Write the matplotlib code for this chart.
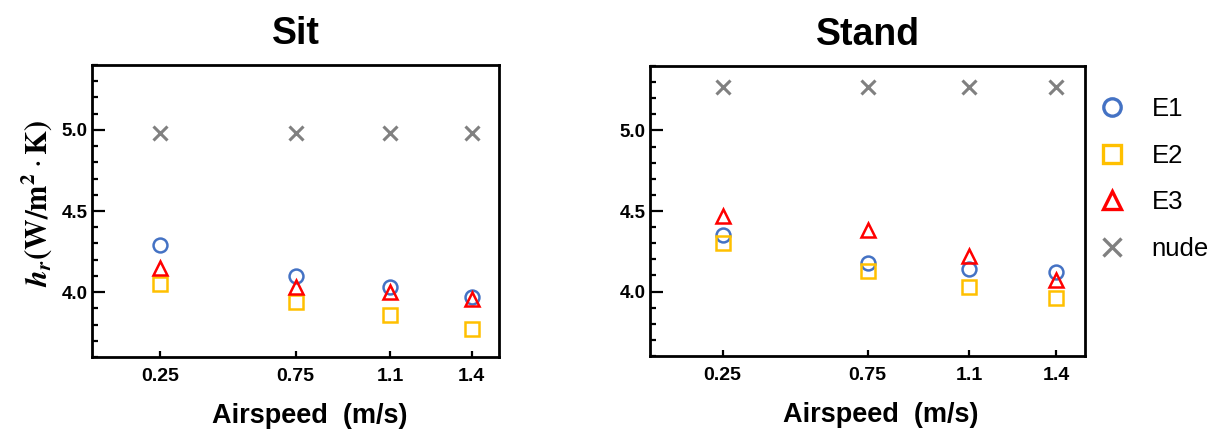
import matplotlib
matplotlib.use("Agg")
import matplotlib.pyplot as plt
from matplotlib.lines import Line2D
from matplotlib.ticker import MultipleLocator

plt.rcParams['font.family'] = ['Liberation Sans', 'DejaVu Sans']
plt.rcParams['mathtext.fontset'] = 'stix'

airspeed = [0.25, 0.75, 1.1, 1.4]
tick_labels = ["0.25", "0.75", "1.1", "1.4"]
series_names = ["E1", "E2", "E3", "nude"]

sit_E1 = [4.29, 4.10, 4.03, 3.97]
sit_E2 = [4.05, 3.94, 3.86, 3.77]
sit_E3 = [4.15, 4.03, 4.00, 3.96]
sit_nude = [4.98, 4.98, 4.98, 4.98]

stand_E1 = [4.35, 4.18, 4.14, 4.12]
stand_E2 = [4.30, 4.13, 4.03, 3.96]
stand_E3 = [4.47, 4.38, 4.22, 4.07]
stand_nude = [5.27, 5.27, 5.27, 5.27]

styles = {
    "E1": dict(marker='o', color='#4472C4'),
    "E2": dict(marker='s', color='#FFC000'),
    "E3": dict(marker='^', color='#FF0000'),
    "nude": dict(marker='x', color='#808080'),
}

fig = plt.figure(figsize=(12.21, 4.29), dpi=100)
ax1 = fig.add_axes([92/1221, 72/429, 407/1221, 292/429])
ax2 = fig.add_axes([650/1221, 73/429, 435/1221, 290/429])

def draw(ax, data, title, xlab_x):
    for name, vals in zip(series_names, data):
        st = styles[name]
        ax.plot(airspeed, vals, linestyle='none', marker=st['marker'],
                markeredgecolor=st['color'], markerfacecolor='none',
                markersize=10, markeredgewidth=1.8 if name != "nude" else 2.2)
    ax.set_xlim(0, 1.5)
    ax.set_ylim(3.6, 5.4)
    ax.set_xticks(airspeed)
    ax.set_xticklabels(tick_labels, fontsize=14, fontweight='bold')
    ax.set_yticks([4.0, 4.5, 5.0])
    ax.set_yticklabels(["4.0", "4.5", "5.0"], fontsize=13.5, fontweight='bold')
    ax.yaxis.set_minor_locator(MultipleLocator(0.1))
    ax.tick_params(axis='y', which='major', direction='in', length=9, width=1.6, pad=3)
    ax.tick_params(axis='y', which='minor', direction='in', length=4.5, width=1.6)
    ax.tick_params(axis='x', which='major', direction='in', length=4, width=1.6, pad=8)
    for s in ax.spines.values():
        s.set_linewidth(2)
    ax.set_title(title, fontsize=27, fontweight='bold', pad=15)
    ax.set_xlabel("Airspeed  (m/s)", fontsize=19.5, fontweight='bold', labelpad=13)
    ax.xaxis.label.set_x(xlab_x)

draw(ax1, [sit_E1, sit_E2, sit_E3, sit_nude], "Sit", 0.535)
draw(ax2, [stand_E1, stand_E2, stand_E3, stand_nude], "Stand", 0.53)

ax1.set_ylabel(r'$\mathbfit{h}_{\mathbfit{r}}\mathbf{(W/m^2}\cdot\mathbf{K)}$', fontsize=22, labelpad=5)
ax1.yaxis.label.set_y(0.525)

handles = []
for name in series_names:
    st = styles[name]
    handles.append(Line2D([], [], linestyle='none', marker=st['marker'],
                          markeredgecolor=st['color'], markerfacecolor='none',
                          markersize=12.5, markeredgewidth=2.4))
fig.legend(handles, series_names, loc='upper left', bbox_to_anchor=(1099/1221, 1 - 97/429),
           frameon=False, fontsize=18.5, handlelength=1.0, handletextpad=1.05,
           labelspacing=0.88, borderpad=0, borderaxespad=0)

fig.savefig("out.png", dpi=100)
